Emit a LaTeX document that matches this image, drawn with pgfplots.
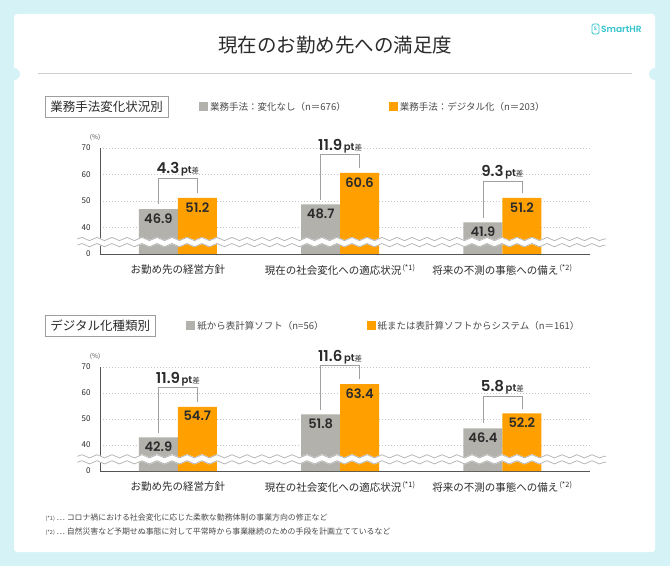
\documentclass[border=0pt]{standalone}
\usepackage{pgfplots}
\pgfplotsset{compat=1.18}
\usepackage{fontspec}
\setmainfont{Noto Sans CJK JP}
\newfontfamily\numfont{Poppins}[BoldFont={Poppins SemiBold}]
\usetikzlibrary{decorations.pathmorphing}
\definecolor{bgcyan}{HTML}{D5F3F6}
\definecolor{graybar}{HTML}{B2B1AC}
\definecolor{orangebar}{HTML}{FFA000}
\definecolor{textdark}{HTML}{2B2B2B}
\definecolor{textgray}{HTML}{4A4A4A}
\definecolor{boxgray}{HTML}{9E9E9E}
\definecolor{linegray}{HTML}{CFCFCF}
\definecolor{gridgray}{HTML}{C4C4C4}
\definecolor{axisgray}{HTML}{555555}
\definecolor{bracketgray}{HTML}{A0A0A0}
\definecolor{wavegray}{HTML}{B0B0B0}
\definecolor{teal}{HTML}{35C3CD}
\DeclareRobustCommand{\diff}[1]{{\numfont\bfseries\fontsize{15}{16}\selectfont #1}\,{\numfont\bfseries\fontsize{10}{11}\selectfont pt}{\fontsize{7.5}{8}\selectfont 差}}
\DeclareRobustCommand{\valfont}{\numfont\bfseries\fontsize{13}{14}\selectfont}
\pgfplotsset{
  panel/.style={
    scale only axis, width=490pt,
    anchor=south west,
    xmin=-0.48, xmax=2.54, ymin=0, ymax=40,
    y filter/.expression={y-30},
    clip=false,
    axis x line*=bottom, axis y line*=left,
    axis line style={draw=axisgray, line width=0.8pt},
    ytick={0,10,20,30,40}, yticklabels={0,40,50,60,70},
    ymajorgrids, grid style={gridgray, line width=0.6pt, dash pattern=on 1pt off 2pt},
    xtick={0,1,2},
    major tick length=0pt,
    tick label style={text=textdark},
    yticklabel style={font=\fontsize{8}{9}\selectfont, xshift=-6pt},
    xticklabel style={font=\fontsize{10.5}{12}\selectfont, yshift=-7pt},
    legend style={draw=none, fill=none, font=\fontsize{9.5}{11}\selectfont, text=textgray,
      legend columns=2, anchor=west, inner sep=0pt,
      /tikz/every even column/.append style={column sep=41pt}},
    legend cell align=left,
  },
  graybars/.style={ybar, bar width=0.24, bar shift=0pt, fill=graybar, draw=none,
    point meta=explicit symbolic, nodes near coords, nodes near coords align={below},
    every node near coord/.append style={font=\valfont, text=textdark, yshift=-1pt},
    legend image code/.code={\fill[graybar] (0pt,-4pt) rectangle (9pt,5pt);}},
  orangebars/.style={ybar, bar width=0.24, bar shift=0pt, fill=orangebar, draw=none,
    point meta=explicit symbolic, nodes near coords, nodes near coords align={below},
    every node near coord/.append style={font=\valfont, text=textdark, yshift=-1pt},
    legend image code/.code={\fill[orangebar] (0pt,-4pt) rectangle (9pt,5pt);}},
  bracket/.style={bracketgray, line width=0.7pt, forget plot, mark=none},
  difflabel/.style={draw=none, forget plot, mark=none, point meta=explicit symbolic,
    nodes near coords, nodes near coords align={above},
    every node near coord/.append style={text=textdark, inner sep=1.5pt}},
}
\newcommand{\wave}{%
\draw[white, line width=6.5pt, decorate, decoration={snake, amplitude=1.6pt, segment length=15pt}] (axis cs:-0.62,4.5) -- (axis cs:2.64,4.5);
\draw[wavegray, line width=0.7pt, decorate, decoration={snake, amplitude=1.6pt, segment length=15pt}] (axis cs:-0.62,5.65) -- (axis cs:2.64,5.65);
\draw[wavegray, line width=0.7pt, decorate, decoration={snake, amplitude=1.6pt, segment length=15pt}] (axis cs:-0.62,3.35) -- (axis cs:2.64,3.35);
\node[font=\fontsize{6.5}{7}\selectfont, text=textgray] at (rel axis cs:-0.01,1.1) {(\%)};}
\begin{document}
\begin{tikzpicture}[x=1pt,y=1pt]
\fill[bgcyan] (0,0) rectangle (670,566);
\fill[white, rounded corners=3pt] (14,14) rectangle (655,552);
\fill[bgcyan] (14,492) circle (6);
\fill[bgcyan] (655,492) circle (6);
\node[font=\fontsize{19.5}{21}\selectfont, text=textdark] at (335,521) {現在のお勤め先への満足度};
\draw[linegray, line width=1pt] (38,492) -- (632,492);
\draw[teal, line width=0.8pt, rounded corners=1.5pt] (592,532) rectangle (599,542);
\node[font=\numfont\bfseries\fontsize{5}{6}\selectfont, text=teal, inner sep=0pt] at (595.5,537) {S};
\node[font=\numfont\bfseries\fontsize{9}{10}\selectfont, text=teal, anchor=west, inner sep=0pt] at (601,537) {SmartHR};
\node[draw=boxgray, line width=0.6pt, inner xsep=5pt, minimum height=21pt, font=\fontsize{12.5}{14}\selectfont, text=textdark, anchor=west] at (45,459) {業務手法変化状況別};
\node[draw=boxgray, line width=0.6pt, inner xsep=5pt, minimum height=21pt, font=\fontsize{12.5}{14}\selectfont, text=textdark, anchor=west] at (45,240) {デジタル化種類別};

\begin{axis}[panel, at={(100pt,312pt)}, height=106pt,
  xticklabels={お勤め先の経営方針, 現在の社会変化への適応状況\textsuperscript{\,(*1)}, 将来の不測の事態への備え\textsuperscript{\,(*2)}},
  legend style={at={(0.202,1.387)}}]
\addplot[graybars] coordinates {(-0.12,46.9) [46.9] (0.88,48.7) [48.7] (1.88,41.9) [41.9]};
\addlegendentry{業務手法：変化なし（n＝676）}
\addplot[orangebars] coordinates {(0.12,51.2) [51.2] (1.12,60.6) [60.6] (2.12,51.2) [51.2]};
\addlegendentry{業務手法：デジタル化（n＝203）}
\addplot[bracket] coordinates {(-0.12,48.7) (-0.12,58.7) (0.12,58.7) (0.12,53.0)};
\addplot[bracket] coordinates {(0.88,50.5) (0.88,67.6) (1.12,67.6) (1.12,62.4)};
\addplot[bracket] coordinates {(1.88,43.7) (1.88,57.6) (2.12,57.6) (2.12,53.0)};
\addplot[difflabel] coordinates {(0,58.7) [\diff{4.3}] (1,67.6) [\diff{11.9}] (2,57.6) [\diff{9.3}]};
\wave
\end{axis}

\begin{axis}[panel, at={(100pt,95pt)}, height=104pt,
  xticklabels={お勤め先の経営方針, 現在の社会変化への適応状況\textsuperscript{\,(*1)}, 将来の不測の事態への備え\textsuperscript{\,(*2)}},
  legend style={at={(0.176,1.394)}}]
\addplot[graybars] coordinates {(-0.12,42.9) [42.9] (0.88,51.8) [51.8] (1.88,46.4) [46.4]};
\addlegendentry{紙から表計算ソフト（n=56）}
\addplot[orangebars] coordinates {(0.12,54.7) [54.7] (1.12,63.4) [63.4] (2.12,52.2) [52.2]};
\addlegendentry{紙または表計算ソフトからシステム（n＝161）}
\addplot[bracket] coordinates {(-0.12,44.6) (-0.12,62.0) (0.12,62.0) (0.12,56.5)};
\addplot[bracket] coordinates {(0.88,53.6) (0.88,70.6) (1.12,70.6) (1.12,65.2)};
\addplot[bracket] coordinates {(1.88,48.4) (1.88,58.8) (2.12,58.8) (2.12,53.8)};
\addplot[difflabel] coordinates {(0,62.0) [\diff{11.9}] (1,70.6) [\diff{11.6}] (2,58.8) [\diff{5.8}]};
\wave
\end{axis}

\node[font=\fontsize{7.9}{9}\selectfont, text=textgray, anchor=west] at (42,48) {{\fontsize{5.5}{6}\selectfont (*1)}\ …\ コロナ禍における社会変化に応じた柔軟な勤務体制の事業方向の修正など};
\node[font=\fontsize{7.9}{9}\selectfont, text=textgray, anchor=west] at (42,34) {{\fontsize{5.5}{6}\selectfont (*2)}\ …\ 自然災害など予期せぬ事態に対して平常時から事業継続のための手段を計画立てているなど};
\pgfresetboundingbox
\useasboundingbox (0,0) rectangle (670,566);
\end{tikzpicture}
\end{document}
